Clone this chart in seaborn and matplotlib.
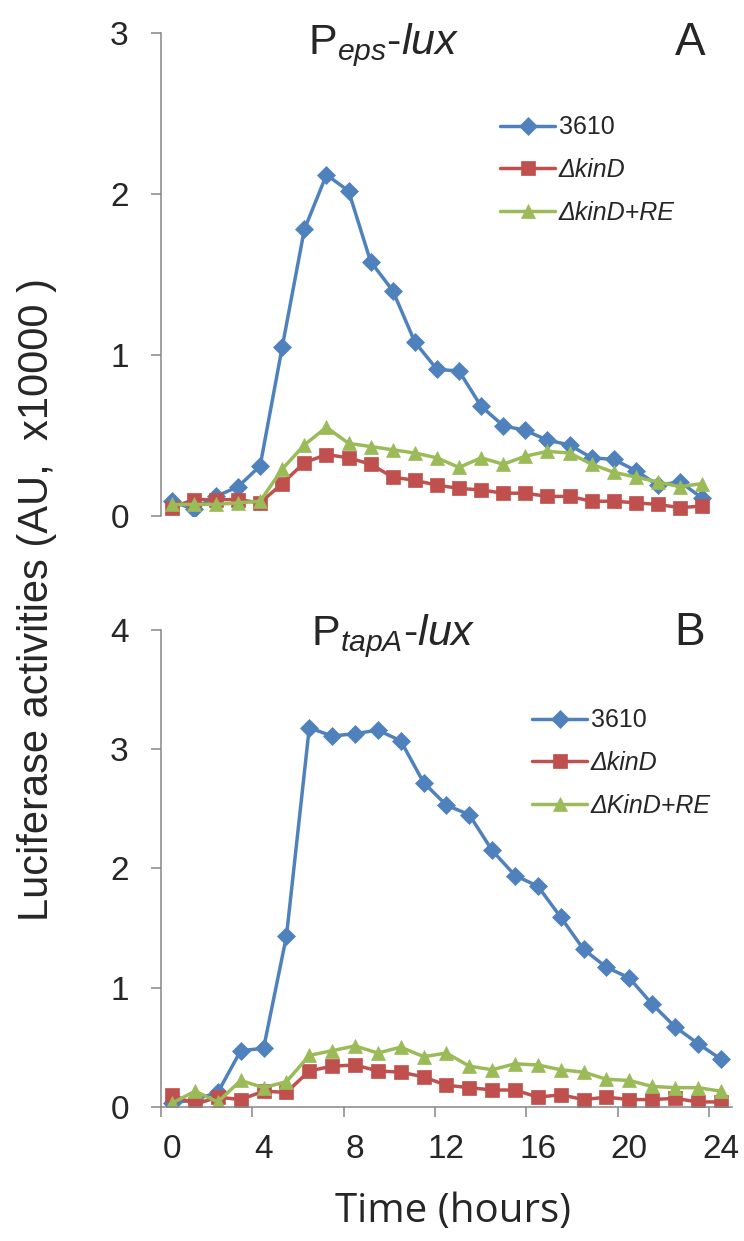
import numpy as np
import matplotlib
matplotlib.use("Agg")
import matplotlib.pyplot as plt
import seaborn as sns

hours = list(range(25))

# panel A: P_eps-lux
eps_3610 = [0.09, 0.04, 0.12, 0.18, 0.31, 1.05, 1.78, 2.12, 2.02, 1.58, 1.40, 1.08, 0.91, 0.90,
            0.68, 0.56, 0.53, 0.47, 0.44, 0.36, 0.35, 0.28, 0.19, 0.21, 0.11]
eps_kinD = [0.05, 0.10, 0.10, 0.10, 0.08, 0.20, 0.33, 0.38, 0.36, 0.32, 0.24, 0.22, 0.19, 0.17,
            0.16, 0.14, 0.14, 0.12, 0.12, 0.09, 0.09, 0.08, 0.07, 0.05, 0.06]
eps_kinD_RE = [0.07, 0.07, 0.07, 0.08, 0.09, 0.29, 0.44, 0.55, 0.45, 0.43, 0.41, 0.39, 0.36, 0.30,
               0.36, 0.32, 0.37, 0.40, 0.39, 0.32, 0.27, 0.24, 0.21, 0.18, 0.20]

# panel B: P_tapA-lux
tapA_3610 = [0.03, 0.06, 0.12, 0.47, 0.49, 1.43, 3.18, 3.11, 3.13, 3.16, 3.07, 2.72, 2.53, 2.45,
             2.15, 1.94, 1.85, 1.59, 1.32, 1.17, 1.08, 0.86, 0.67, 0.53, 0.40]
tapA_kinD = [0.10, 0.02, 0.08, 0.06, 0.13, 0.12, 0.30, 0.34, 0.35, 0.30, 0.29, 0.25, 0.18, 0.16,
             0.14, 0.14, 0.08, 0.10, 0.06, 0.08, 0.06, 0.06, 0.07, 0.04, 0.04]
tapA_kinD_RE = [0.03, 0.13, 0.04, 0.22, 0.16, 0.21, 0.43, 0.47, 0.51, 0.45, 0.50, 0.42, 0.45, 0.34,
                0.31, 0.36, 0.35, 0.31, 0.29, 0.23, 0.22, 0.17, 0.16, 0.16, 0.13]

labels_A = ["3610", "ΔkinD", "ΔkinD+RE"]
labels_B = ["3610", "ΔkinD", "ΔKinD+RE"]
colors = ["#4F81BD", "#C0504D", "#9BBB59"]
markers = ["D", "s", "^"]
msizes = [9.5, 10.5, 10.5]

sns.set_theme(style="white")
plt.rcParams["font.family"] = ["Liberation Sans", "DejaVu Sans"]
plt.rcParams["mathtext.fontset"] = "custom"
plt.rcParams["mathtext.rm"] = "Liberation Sans"
plt.rcParams["mathtext.it"] = "Liberation Sans:italic"

W, H = 744, 1241
fig = plt.figure(figsize=(W / 100, H / 100), dpi=100)
axA = fig.add_axes([160.7 / W, 1 - 515.7 / H, 552.5 / W, 482.4 / H])
axB = fig.add_axes([160.7 / W, 1 - 1106.7 / H, 571.5 / W, 476.7 / H])

gray = "#868686"


def draw(ax, series, labels, ymax, show_x):
    for vals, lab, c, m, ms in zip(series, labels, colors, markers, msizes):
        sns.lineplot(x=hours, y=vals, ax=ax, color=c, marker=m, markersize=ms,
                     markeredgecolor=c, markeredgewidth=0.5, linewidth=2.5, label=lab)
    ax.set_xlim(-0.5, 24.5)
    ax.set_ylim(0, ymax)
    ax.set_yticks(range(ymax + 1))
    ax.tick_params(axis="y", length=7, width=1.1, color=gray, pad=16, labelsize=24, left=True)
    for s in ["top", "right"]:
        ax.spines[s].set_visible(False)
    ax.spines["left"].set_color(gray)
    ax.spines["left"].set_linewidth(1.1)
    if show_x:
        ax.spines["bottom"].set_color(gray)
        ax.spines["bottom"].set_linewidth(1.1)
        ax.set_xticks(range(0, 25, 4))
        ax.set_xticks(np.arange(-0.5, 24, 4), minor=True)
        ax.tick_params(axis="x", which="major", length=0, pad=20, labelsize=24)
        ax.tick_params(axis="x", which="minor", length=7, width=1.1, color=gray, bottom=True)
    else:
        ax.spines["bottom"].set_visible(False)
        ax.set_xticks([])
    ax.set_xlabel("")
    ax.set_ylabel("")


draw(axA, [eps_3610, eps_kinD, eps_kinD_RE], labels_A, 3, False)
draw(axB, [tapA_3610, tapA_kinD, tapA_kinD_RE], labels_B, 4, True)

for ax, x0, yc in [(axA, 500, 170), (axB, 532, 763)]:
    h, l = ax.get_legend_handles_labels()
    leg = ax.legend(h, l, loc="center left", bbox_to_anchor=(x0 / W, 1 - yc / H),
                    bbox_transform=fig.transFigure, frameon=False, fontsize=18,
                    handlelength=2.2, handletextpad=0.15, labelspacing=0.75,
                    borderpad=0, borderaxespad=0, numpoints=1)
    for t in leg.get_texts()[1:]:
        t.set_style("italic")

fig.text(384 / W, 1 - 54 / H, r"P$_{\mathit{eps}}$-$\mathit{lux}$", fontsize=31,
         ha="center", va="baseline")
fig.text(393 / W, 1 - 645 / H, r"P$_{\mathit{tapA}}$-$\mathit{lux}$", fontsize=31,
         ha="center", va="baseline")
fig.text(690 / W, 1 - 55 / H, "A", fontsize=33, ha="center", va="baseline")
fig.text(690 / W, 1 - 645 / H, "B", fontsize=33, ha="center", va="baseline")

fig.text(37 / W, 1 - 600 / H, "Luciferase activities (AU,  x10000 )", fontsize=30,
         rotation=90, ha="center", va="center")
fig.text(453 / W, 1 - 1222 / H, "Time (hours)", fontsize=29, ha="center", va="baseline",
         family=["Open Sans", "DejaVu Sans"])

fig.savefig("out.png", dpi=100)
